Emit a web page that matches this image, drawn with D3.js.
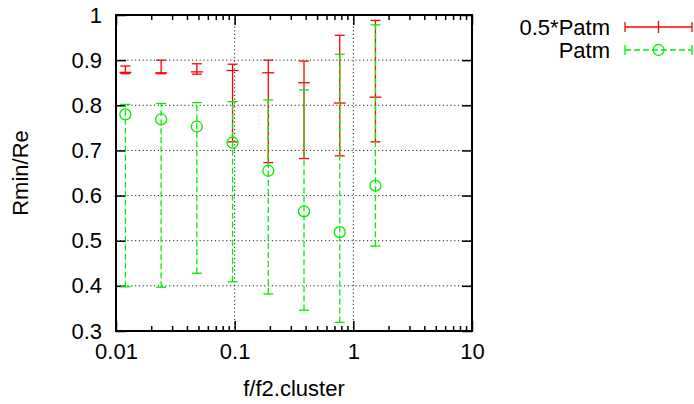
<!DOCTYPE html>
<html>
<head>
<meta charset="utf-8">
<script src="https://cdn.jsdelivr.net/npm/d3@7"></script>
<style>
  body { margin: 0; background: #fff; }
  svg text { font-family: "Liberation Sans", Arial, Helvetica, sans-serif; fill: #000; }
</style>
</head>
<body>
<div id="chart"></div>
<script>
// values
var xVals = [0.012, 0.024, 0.048, 0.096, 0.192, 0.384, 0.768, 1.536];

var halfY    = [0.873, 0.872, 0.874, 0.877, 0.872, 0.850, 0.805, 0.818];
var halfLow  = [0.870, 0.870, 0.869, 0.719, 0.673, 0.682, 0.688, 0.719];
var halfHigh = [0.887, 0.900, 0.892, 0.891, 0.900, 0.898, 0.955, 0.988];

var patmY    = [0.780, 0.769, 0.753, 0.717, 0.655, 0.565, 0.519, 0.622];
var patmLow  = [0.398, 0.397, 0.428, 0.409, 0.382, 0.346, 0.319, 0.488];
var patmHigh = [0.802, 0.804, 0.806, 0.808, 0.812, 0.834, 0.913, 0.978];

var yTicks = [0.3, 0.4, 0.5, 0.6, 0.7, 0.8, 0.9, 1];
var xTicks = [0.01, 0.1, 1, 10];
var seriesNames = ["0.5*Patm", "Patm"];

const width = 694, height = 404;
var margin = {top: 15, right: 222, bottom: 73, left: 116};
var w = width - margin.left - margin.right,
    h = height - margin.top - margin.bottom;

var fontSize = 22;

var svg = d3.select("#chart").append("svg")
    .attr("width", width)
    .attr("height", height);

var g = svg.append("g")
    .attr("transform", "translate(" + margin.left + "," + margin.top + ")");

var x = d3.scaleLog().domain([0.01, 10]).range([0, w]);
var y = d3.scaleLinear().domain([0.3, 1]).range([h, 0]);

// minor ticks for log axis
var minor = [];
[0.01, 0.1, 1].forEach(function(d) {
  for (var k = 2; k <= 9; k++) minor.push(d * k);
});

// grid
var grid = g.append("g").attr("class", "grid");
grid.selectAll("line.gy")
    .data(yTicks.filter(function(d) { return d > 0.3 && d < 1; }))
    .join("line")
    .attr("x1", 0).attr("x2", w)
    .attr("y1", function(d) { return y(d); })
    .attr("y2", function(d) { return y(d); });
grid.selectAll("line.gx")
    .data([0.1, 1])
    .join("line")
    .attr("class", "gx")
    .attr("y1", 0).attr("y2", h)
    .attr("x1", function(d) { return x(d); })
    .attr("x2", function(d) { return x(d); });
grid.selectAll("line")
    .attr("stroke", "#222")
    .attr("stroke-width", 1)
    .attr("stroke-dasharray", "1.2,2.6");

// axes (ticks drawn inward, gnuplot style)
var xAxisB = d3.axisBottom(x).tickValues(xTicks).tickSizeInner(-10).tickSizeOuter(0)
    .tickPadding(16).tickFormat(function(d) { return d3.format("")(d); });
var gxb = g.append("g")
    .attr("transform", "translate(0," + h + ")")
    .call(xAxisB);
var xAxisT = d3.axisTop(x).tickValues(xTicks).tickSizeInner(-10).tickSizeOuter(0).tickFormat("");
var gxt = g.append("g").call(xAxisT);

// minor x ticks
[[h, -5], [0, 5]].forEach(function(p) {
  g.append("g").selectAll("line")
    .data(minor)
    .join("line")
    .attr("x1", function(d) { return x(d); })
    .attr("x2", function(d) { return x(d); })
    .attr("y1", p[0]).attr("y2", p[0] + p[1])
    .attr("stroke", "#000").attr("stroke-width", 1.5);
});

var yAxisL = d3.axisLeft(y).tickValues(yTicks).tickSizeInner(-10).tickSizeOuter(0)
    .tickPadding(14).tickFormat(function(d) { return d3.format("")(d); });
var gyl = g.append("g").call(yAxisL);
var yAxisR = d3.axisRight(y).tickValues(yTicks).tickSizeInner(-10).tickSizeOuter(0).tickFormat("");
var gyr = g.append("g").attr("transform", "translate(" + w + ",0)").call(yAxisR);

[gxb, gxt, gyl, gyr].forEach(function(a) {
  a.select(".domain").remove();
  a.selectAll(".tick line").attr("stroke", "#000").attr("stroke-width", 1.5);
  a.selectAll(".tick text")
    .style("font-size", fontSize + "px")
    .style("font-family", "'Liberation Sans', Arial, sans-serif");
});
gxb.selectAll(".tick text").attr("dy", "0.55em");

// border
g.append("rect")
    .attr("x", 0).attr("y", 0)
    .attr("width", w).attr("height", h)
    .attr("fill", "none")
    .attr("stroke", "#000")
    .attr("stroke-width", 2);

// error bar series
function drawSeries(vals, lows, highs, color, dash, marker) {
  var data = xVals.map(function(d, i) {
    return {x: d, y: vals[i], lo: lows[i], hi: highs[i]};
  });
  var s = g.append("g");
  var cap = 5;
  s.selectAll("line.bar")
    .data(data).join("line")
    .attr("x1", function(d) { return x(d.x); })
    .attr("x2", function(d) { return x(d.x); })
    .attr("y1", function(d) { return y(d.lo); })
    .attr("y2", function(d) { return y(d.hi); })
    .attr("stroke", color).attr("stroke-width", 1.3)
    .attr("stroke-dasharray", dash);
  ["lo", "hi"].forEach(function(k) {
    s.selectAll("line.cap" + k)
      .data(data).join("line")
      .attr("x1", function(d) { return x(d.x) - cap; })
      .attr("x2", function(d) { return x(d.x) + cap; })
      .attr("y1", function(d) { return y(d[k]); })
      .attr("y2", function(d) { return y(d[k]); })
      .attr("stroke", color).attr("stroke-width", 1.3);
  });
  if (marker == "plus") {
    s.selectAll("line.plus")
      .data(data).join("line")
      .attr("x1", function(d) { return x(d.x) - 6; })
      .attr("x2", function(d) { return x(d.x) + 6; })
      .attr("y1", function(d) { return y(d.y); })
      .attr("y2", function(d) { return y(d.y); })
      .attr("stroke", color).attr("stroke-width", 1.3);
  } else {
    s.selectAll("circle")
      .data(data).join("circle")
      .attr("cx", function(d) { return x(d.x); })
      .attr("cy", function(d) { return y(d.y); })
      .attr("r", 5.5)
      .attr("fill", "none")
      .attr("stroke", color).attr("stroke-width", 1.3);
  }
}

drawSeries(halfY, halfLow, halfHigh, "#ff0000", null, "plus");
drawSeries(patmY, patmLow, patmHigh, "#00ee00", "6,3", "circle");

// axis titles
svg.append("text")
    .attr("x", margin.left + w / 2)
    .attr("y", 396)
    .attr("text-anchor", "middle")
    .style("font-size", fontSize + "px")
    .text("f/f2.cluster");

svg.append("text")
    .attr("transform", "translate(28," + (margin.top + h / 2) + ") rotate(-90)")
    .attr("text-anchor", "middle")
    .style("font-size", fontSize + "px")
    .text("Rmin/Re");

// legend
var legend = svg.append("g");
var legColors = ["#ff0000", "#00ee00"];
var legDash = [null, "6,3"];
seriesNames.forEach(function(name, i) {
  var ly = 27 + i * 23;
  var x0 = 625, x1 = 692;
  legend.append("text")
      .attr("x", 610).attr("y", ly + 7.5)
      .attr("text-anchor", "end")
      .style("font-size", fontSize + "px")
      .text(name);
  legend.append("line")
      .attr("x1", x0).attr("x2", x1).attr("y1", ly).attr("y2", ly)
      .attr("stroke", legColors[i]).attr("stroke-width", 1.3)
      .attr("stroke-dasharray", legDash[i]);
  [x0, x1].forEach(function(xx) {
    legend.append("line")
        .attr("x1", xx).attr("x2", xx).attr("y1", ly - 5).attr("y2", ly + 5)
        .attr("stroke", legColors[i]).attr("stroke-width", 1.3);
  });
  var mx = (x0 + x1) / 2;
  if (i == 0) {
    legend.append("line")
        .attr("x1", mx).attr("x2", mx).attr("y1", ly - 6).attr("y2", ly + 6)
        .attr("stroke", legColors[i]).attr("stroke-width", 1.3);
  } else {
    legend.append("circle")
        .attr("cx", mx).attr("cy", ly).attr("r", 5.5)
        .attr("fill", "none")
        .attr("stroke", legColors[i]).attr("stroke-width", 1.3);
  }
});
</script>
</body>
</html>
